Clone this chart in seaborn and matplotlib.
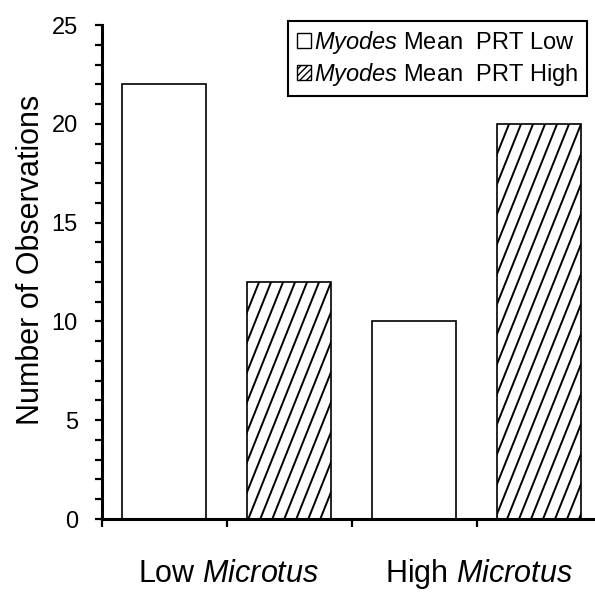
import numpy as np
import pandas as pd
import matplotlib
matplotlib.use("Agg")
import matplotlib.pyplot as plt
from matplotlib.patches import Patch
import seaborn as sns

# ── data ──────────────────────────────────────────────────
microtus = ["Low Microtus", "High Microtus"]
prt_levels = ["Low", "High"]
obs_prt_low = [22, 10]
obs_prt_high = [12, 20]

xtick_labels = [r"Low $\it{Microtus}$", r"High $\it{Microtus}$"]
legend_labels = [r"$\it{Myodes}$ Mean  PRT Low", r"$\it{Myodes}$ Mean  PRT High"]

df = pd.DataFrame({
    "microtus": microtus * 2,
    "prt": [prt_levels[0]] * 2 + [prt_levels[1]] * 2,
    "count": obs_prt_low + obs_prt_high,
})

# ── style ─────────────────────────────────────────────────
sns.set_style("ticks")
plt.rcParams.update({
    "font.family": ["Liberation Sans", "DejaVu Sans"],
    "mathtext.fontset": "custom",
    "mathtext.rm": "Liberation Sans",
    "mathtext.it": "Liberation Sans:italic",
    "text.color": "black",
    "axes.labelcolor": "black",
    "xtick.color": "black",
    "ytick.color": "black",
    "hatch.color": "#555555",
    "hatch.linewidth": 1.0,
})

fig = plt.figure(figsize=(5.95, 5.94), dpi=100)
ax = fig.add_axes([101.5 / 595, 75 / 594, 500 / 595, 494 / 594])

sns.barplot(data=df, x="microtus", y="count", hue="prt", hue_order=prt_levels,
            palette={"Low": "white", "High": "white"}, width=1.0, gap=0.33,
            edgecolor="black", linewidth=1.2, errorbar=None, legend=False, ax=ax)

ax.set_xlim(-0.5, 1.5)
ax.set_ylim(0, 25)

# steep diagonal hatching on the PRT High bars
slope = 2.5      # rise over run, in pixels
spacing = 12.0   # horizontal pixel step between stripes
to_px = ax.transData
to_data = ax.transData.inverted()
for bar in ax.containers[1]:
    x0, w, h = bar.get_x(), bar.get_width(), bar.get_height()
    (px0, py0), (px1, py1) = to_px.transform([(x0, 0), (x0 + w, h)])
    run = (py1 - py0) / slope
    for off in np.arange(px0 - run, px1 + spacing, spacing):
        seg = to_data.transform([(off, py0), (off + run, py1)])
        ln, = ax.plot(seg[:, 0], seg[:, 1], color="black", lw=1.4, solid_capstyle="butt")
        ln.set_clip_path(bar)

# ── axes ──────────────────────────────────────────────────
for side in ["top", "right"]:
    ax.spines[side].set_visible(False)
for side in ["left", "bottom"]:
    ax.spines[side].set_linewidth(2.2)
    ax.spines[side].set_color("black")

ax.set_yticks(np.arange(0, 26, 5))
ax.set_yticks(np.arange(0, 26, 1), minor=True)
ax.tick_params(axis="y", which="both", direction="out", length=5, width=1.6,
               labelsize=17, pad=12)

# category labels drawn on a shared baseline so the descender in "High" does not shift it
ax.set_xticks([0, 1], ["", ""])
ax.set_xticks([-0.5, 0.5, 1.5], minor=True)
ax.tick_params(axis="x", which="both", direction="out", length=5.5, width=1.6)
for i, lab in enumerate(xtick_labels):
    ax.text(i + 0.01, -0.128, lab, transform=ax.get_xaxis_transform(),
            ha="center", va="baseline", fontsize=22)

ax.set_xlabel("")
ax.set_ylabel("Number of Observations", fontsize=22, labelpad=4, y=0.524)

handles = [Patch(facecolor="white", edgecolor="black", lw=1.0),
           Patch(facecolor="white", edgecolor="black", lw=1.0, hatch="/////")]
leg = fig.legend(handles, legend_labels, loc="upper right",
                 bbox_to_anchor=(587 / 595, 1 - 21 / 594), fontsize=17,
                 frameon=True, fancybox=False, shadow=False, framealpha=1,
                 borderpad=0.35, labelspacing=0.2, handlelength=0.6,
                 handleheight=0.6, handletextpad=0.15, borderaxespad=0)
leg.get_frame().set_edgecolor("black")
leg.get_frame().set_linewidth(1.5)

fig.savefig("out.png", dpi=100)
